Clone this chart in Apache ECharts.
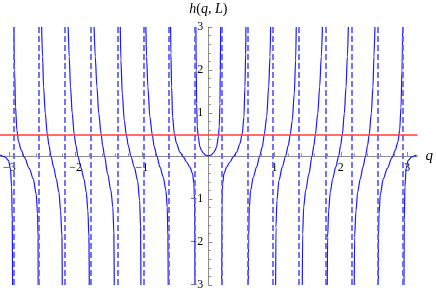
<!DOCTYPE html>
<html>
<head>
<meta charset="utf-8">
<script src="https://cdn.jsdelivr.net/npm/echarts@6/dist/echarts.min.js"></script>
<style>
html,body{margin:0;padding:0;background:#fff;}
#chart{width:436px;height:292px;}
</style>
</head>
<body>
<div id="chart"></div>
<script>
// ---- data: [q, h] pairs per branch ----
const centerBranch = [[-0.187,3.0],[-0.181,2.0],[-0.176,1.22],[-0.166,0.68],[-0.151,0.44],[-0.126,0.21],[-0.10,0.12],[-0.075,0.07],[-0.04,0.02],[0,0],[0.04,0.02],[0.075,0.07],[0.10,0.12],[0.126,0.21],[0.151,0.44],[0.166,0.68],[0.176,1.22],[0.181,2.0],[0.187,3.0]];

const rightBranch1 = [[0.202,-3.0],[0.206,-1.11],[0.217,-0.64],[0.237,-0.41],[0.277,-0.26],[0.327,-0.14],[0.377,-0.02],[0.428,0.09],[0.478,0.29],[0.513,0.52],[0.538,0.91],[0.553,1.61],[0.564,2.39],[0.568,3.0]];
const rightBranch2 = [[0.604,-3.0],[0.609,-1.89],[0.619,-1.19],[0.639,-0.80],[0.679,-0.49],[0.729,-0.26],[0.775,0],[0.815,0.21],[0.845,0.5],[0.881,0.91],[0.911,1.61],[0.931,2.31],[0.941,3.0]];
const rightBranch3 = [[1.016,-3.0],[1.021,-1.66],[1.036,-1.03],[1.066,-0.57],[1.116,-0.26],[1.167,0],[1.207,0.25],[1.237,0.5],[1.267,0.83],[1.297,1.45],[1.318,2.23],[1.327,3.0]];
const rightBranch4 = [[1.418,-3.0],[1.424,-1.81],[1.439,-1.19],[1.469,-0.80],[1.519,-0.41],[1.565,0],[1.594,0.25],[1.615,0.5],[1.652,0.99],[1.680,1.61],[1.705,2.31],[1.722,3.0]];
const rightBranch5 = [[1.795,-3.0],[1.800,-1.89],[1.816,-1.27],[1.840,-0.84],[1.876,-0.53],[1.922,-0.26],[1.967,0],[1.997,0.25],[2.022,0.5],[2.052,0.99],[2.078,1.61],[2.098,2.31],[2.113,3.0]];
const rightBranch6 = [[2.202,-3.0],[2.207,-1.89],[2.228,-1.27],[2.253,-0.84],[2.293,-0.53],[2.333,-0.26],[2.373,0],[2.403,0.25],[2.428,0.5],[2.459,0.99],[2.484,1.61],[2.499,2.31],[2.514,3.0]];
const rightBranch7 = [[2.566,-3.0],[2.567,-1.89],[2.576,-1.34],[2.596,-0.88],[2.640,-0.53],[2.700,-0.29],[2.771,-0.04],[2.820,0.13],[2.861,0.33],[2.887,0.6],[2.907,1.14],[2.922,2.0],[2.932,3.0]];
const rightBranch8 = [[2.952,-3.0],[2.957,-1.5],[2.966,-0.72],[2.985,-0.29],[3.015,-0.1],[3.067,-0.02],[3.1416,0.02]];

const leftBranch1 = [[-0.568,3.0],[-0.564,2.39],[-0.553,1.61],[-0.538,0.91],[-0.513,0.52],[-0.478,0.29],[-0.428,0.09],[-0.377,-0.02],[-0.327,-0.14],[-0.277,-0.26],[-0.237,-0.41],[-0.217,-0.64],[-0.206,-1.11],[-0.202,-3.0]];
const leftBranch2 = [[-0.941,3.0],[-0.931,2.31],[-0.911,1.61],[-0.881,0.91],[-0.845,0.5],[-0.815,0.21],[-0.775,0],[-0.729,-0.26],[-0.679,-0.49],[-0.639,-0.80],[-0.619,-1.19],[-0.609,-1.89],[-0.604,-3.0]];
const leftBranch3 = [[-1.327,3.0],[-1.318,2.23],[-1.297,1.45],[-1.267,0.83],[-1.237,0.5],[-1.207,0.25],[-1.167,0],[-1.116,-0.26],[-1.066,-0.57],[-1.036,-1.03],[-1.021,-1.66],[-1.016,-3.0]];
const leftBranch4 = [[-1.722,3.0],[-1.705,2.31],[-1.680,1.61],[-1.652,0.99],[-1.615,0.5],[-1.594,0.25],[-1.565,0],[-1.519,-0.41],[-1.469,-0.80],[-1.439,-1.19],[-1.424,-1.81],[-1.418,-3.0]];
const leftBranch5 = [[-2.113,3.0],[-2.098,2.31],[-2.078,1.61],[-2.052,0.99],[-2.022,0.5],[-1.997,0.25],[-1.967,0],[-1.922,-0.26],[-1.876,-0.53],[-1.840,-0.84],[-1.816,-1.27],[-1.800,-1.89],[-1.795,-3.0]];
const leftBranch6 = [[-2.514,3.0],[-2.499,2.31],[-2.484,1.61],[-2.459,0.99],[-2.428,0.5],[-2.403,0.25],[-2.373,0],[-2.333,-0.26],[-2.293,-0.53],[-2.253,-0.84],[-2.228,-1.27],[-2.207,-1.89],[-2.202,-3.0]];
const leftBranch7 = [[-2.932,3.0],[-2.922,2.0],[-2.907,1.14],[-2.887,0.6],[-2.861,0.33],[-2.820,0.13],[-2.771,-0.04],[-2.700,-0.29],[-2.640,-0.53],[-2.596,-0.88],[-2.576,-1.34],[-2.567,-1.89],[-2.566,-3.0]];
const leftBranch8 = [[-3.1416,0.02],[-3.067,-0.02],[-3.015,-0.1],[-2.985,-0.29],[-2.966,-0.72],[-2.957,-1.5],[-2.952,-3.0]];

// dashed vertical asymptotes (q positions)
const asymptotesQ = [-2.945,-2.553,-2.160,-1.767,-1.374,-0.982,-0.589,-0.196,0.196,0.589,0.982,1.374,1.767,2.160,2.553,2.945];
// red horizontal level
const redLevel = 0.5;

// axis ranges and ticks
const qMin = -3.1416, qMax = 3.156;
const hMin = -3, hMax = 3;
const xMajorTicks = [-3,-2,-1,1,2,3];
const xMinorTicks = [-2.8,-2.6,-2.4,-2.2,-1.8,-1.6,-1.4,-1.2,-0.8,-0.6,-0.4,-0.2,0.2,0.4,0.6,0.8,1.2,1.4,1.6,1.8,2.2,2.4,2.6,2.8];

const branches = [centerBranch,
  rightBranch1,rightBranch2,rightBranch3,rightBranch4,rightBranch5,rightBranch6,rightBranch7,rightBranch8,
  leftBranch1,leftBranch2,leftBranch3,leftBranch4,leftBranch5,leftBranch6,leftBranch7,leftBranch8];

// ---- layout ----
const W = 436, H = 292;
const GRID_LEFT = 0, GRID_RIGHT = 18.5, GRID_TOP = 27, GRID_BOTTOM = 7;
const gridW = W - GRID_LEFT - GRID_RIGHT, gridH = H - GRID_TOP - GRID_BOTTOM;
// place the axes so they cross at the origin (q = 0, h = 0)
const xAxisOffset = -(gridH * (0 - hMin) / (hMax - hMin));           // move x axis up from bottom edge
const yAxisOffset = -(gridW * (0 - qMin) / (qMax - qMin));           // move y axis right from left edge

const SERIF = '"Liberation Serif", "DejaVu Serif", serif';
const AXIS_GRAY = '#8c8c8c';
const fmtMinus = v => (v === 0 ? '' : String(v).replace('-', '\u2212'));

const series = [];
series.push({
  type: 'line', data: [], silent: true, animation: false,
  markLine: {
    silent: true, animation: false, symbol: ['none','none'],
    label: {show: false},
    lineStyle: {color: '#6464ff', width: 1.8, type: [6,3], opacity: 1},
    data: asymptotesQ.map(q => ({xAxis: q}))
  }
});
branches.forEach(b => {
  series.push({
    type: 'line', data: b, showSymbol: false, symbol: 'none',
    smooth: 0.3, smoothMonotone: 'x', silent: true, animation: false,
    lineStyle: {color: '#1a1aff', width: 1.2}
  });
});
series.push({
  type: 'line', data: [], silent: true, animation: false,
  markLine: {
    silent: true, animation: false, symbol: ['none','none'],
    label: {show: false},
    lineStyle: {color: '#ff3c3c', width: 1.5, type: 'solid'},
    data: [{yAxis: redLevel}]
  }
});

const chart = echarts.init(document.getElementById('chart'), null, {renderer: 'canvas'});
chart.setOption({
  animation: false,
  backgroundColor: '#ffffff',
  grid: {left: GRID_LEFT, right: GRID_RIGHT, top: GRID_TOP, bottom: GRID_BOTTOM, containLabel: false, outerBoundsMode: 'none'},
  xAxis: [{
    type: 'value', min: qMin, max: qMax, position: 'bottom', offset: xAxisOffset,
    name: 'q', nameLocation: 'end', nameGap: 8,
    nameTextStyle: {fontFamily: SERIF, fontSize: 15, fontStyle: 'italic', color: '#000', verticalAlign: 'middle', padding: [0,0,4,0]},
    axisLine: {onZero: false, lineStyle: {color: AXIS_GRAY, width: 1}},
    axisTick: {show: true, inside: true, length: 4, customValues: xMajorTicks, lineStyle: {color: AXIS_GRAY}},
    axisLabel: {show: true, customValues: xMajorTicks, formatter: fmtMinus, fontFamily: SERIF, fontSize: 12, color: '#000', margin: 6},
    splitLine: {show: false}
  }, {
    type: 'value', min: qMin, max: qMax, position: 'bottom', offset: xAxisOffset,
    axisLine: {show: false, onZero: false},
    axisTick: {show: true, inside: true, length: 2.5, customValues: xMinorTicks, lineStyle: {color: AXIS_GRAY}},
    axisLabel: {show: false},
    splitLine: {show: false}
  }],
  yAxis: {
    type: 'value', min: hMin, max: hMax, interval: 1, position: 'left', offset: yAxisOffset,
    name: '{i|h}({i|q}, {i|L})', nameLocation: 'end', nameGap: 11,
    nameTextStyle: {fontFamily: SERIF, fontSize: 14, color: '#000',
      rich: {i: {fontFamily: SERIF, fontSize: 14, fontStyle: 'italic', color: '#000'}}},
    axisLine: {onZero: false, lineStyle: {color: AXIS_GRAY, width: 1}},
    axisTick: {show: true, inside: true, length: 4, lineStyle: {color: AXIS_GRAY}},
    minorTick: {show: true, splitNumber: 5, length: 2.5, lineStyle: {color: AXIS_GRAY}},
    axisLabel: {formatter: fmtMinus, fontFamily: SERIF, fontSize: 12, color: '#000', margin: 5},
    splitLine: {show: false},
    minorSplitLine: {show: false}
  },
  series: series
});
</script>
</body>
</html>
